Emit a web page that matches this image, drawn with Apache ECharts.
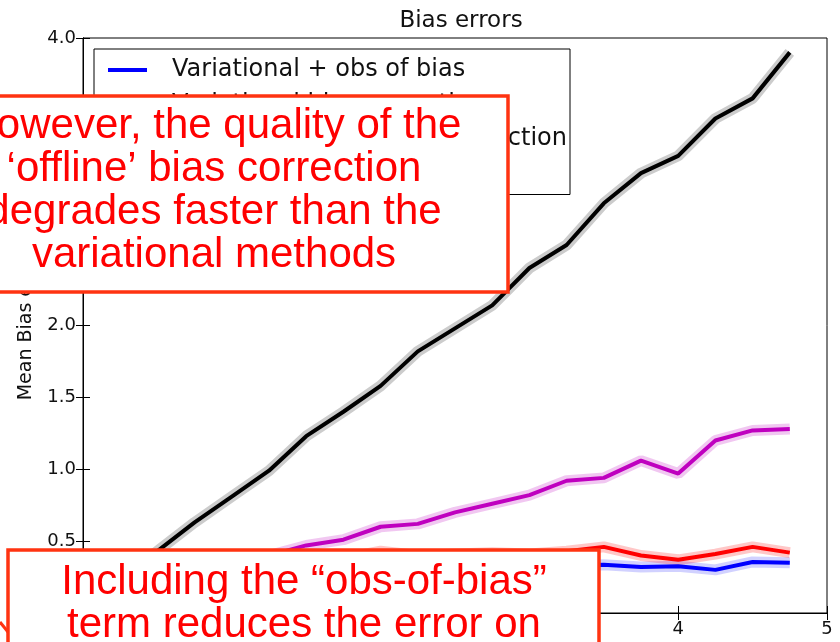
<!DOCTYPE html>
<html>
<head>
<meta charset="utf-8">
<script src="https://cdn.jsdelivr.net/npm/echarts@6/dist/echarts.min.js"></script>
<style>
html, body { margin: 0; padding: 0; background: #fff; }
#chart { width: 840px; height: 642px; }
</style>
</head>
<body>
<div id="chart"></div>
<script>
// x positions of the samples
const xValues = [0.25, 0.5, 0.75, 1.0, 1.25, 1.5, 1.75, 2.0, 2.25, 2.5, 2.75, 3.0, 3.25, 3.5, 3.75, 4.0, 4.25, 4.5, 4.75];

// mean bias error per method
const obsOfBias   = [0.12, 0.17, 0.20, 0.22, 0.24, 0.25, 0.27, 0.28, 0.29, 0.30, 0.31, 0.31, 0.33, 0.335, 0.32, 0.325, 0.30, 0.355, 0.35];
const varBias     = [0.15, 0.22, 0.27, 0.30, 0.33, 0.36, 0.38, 0.43, 0.40, 0.41, 0.42, 0.41, 0.43, 0.46, 0.40, 0.37, 0.41, 0.46, 0.42];
const offlineBias = [0.20, 0.26, 0.31, 0.36, 0.40, 0.47, 0.51, 0.60, 0.62, 0.70, 0.76, 0.82, 0.92, 0.94, 1.06, 0.97, 1.20, 1.27, 1.28];
const noBias      = [0.25, 0.43, 0.63, 0.81, 0.99, 1.23, 1.40, 1.58, 1.82, 1.98, 2.14, 2.40, 2.56, 2.85, 3.06, 3.18, 3.44, 3.58, 3.90];

const seriesNames = [
  'Variational + obs of bias',
  'Variational bias correction',
  'Sequential offline bias correction',
  'No bias correction'
];
const seriesColors = ['#0000ff', '#ff0000', '#bf00bf', '#000000'];
const bandColors = ['rgba(0,0,255,0.18)', 'rgba(255,0,0,0.22)', 'rgba(191,0,191,0.22)', 'rgba(0,0,0,0.2)'];

const topNote = [
  'However, the quality of the',
  '\u2018offline\u2019 bias correction',
  'degrades faster than the',
  'variational methods'
];
const bottomNote = [
  'Including the \u201cobs-of-bias\u201d',
  'term reduces the error on'
];

const allValues = [obsOfBias, varBias, offlineBias, noBias];
const chart = echarts.init(document.getElementById('chart'));

const series = [];
allValues.forEach((vals, i) => {
  const pts = xValues.map((x, k) => [x, vals[k]]);
  // shaded spread around each mean line
  series.push({
    name: seriesNames[i] + ' spread',
    type: 'line',
    data: pts,
    showSymbol: false,
    symbol: 'none',
    silent: true,
    lineStyle: { color: bandColors[i], width: 11 },
    z: 2
  });
  series.push({
    name: seriesNames[i],
    type: 'line',
    data: pts,
    showSymbol: false,
    symbol: 'none',
    color: seriesColors[i],
    lineStyle: { color: seriesColors[i], width: 4 },
    z: 3
  });
});

const tickFont = { fontFamily: 'DejaVu Sans', fontSize: 18, color: '#111' };

chart.setOption({
  animation: false,
  backgroundColor: '#fff',
  title: {
    text: 'Bias errors',
    left: 456,
    top: 5,
    textAlign: 'center',
    textStyle: { fontFamily: 'DejaVu Sans', fontSize: 23, fontWeight: 'normal', color: '#111' }
  },
  grid: {
    left: 83, top: 38, right: 13, bottom: 29,
    show: true, borderColor: '#000', borderWidth: 1
  },
  legend: {
    data: seriesNames,
    orient: 'vertical',
    left: 94,
    top: 49,
    padding: [8, 3, 8, 14],
    itemGap: 8.5,
    itemWidth: 39,
    itemHeight: 4,
    icon: 'rect',
    backgroundColor: '#fff',
    borderColor: '#000',
    borderWidth: 1,
    borderRadius: 0,
    textStyle: { fontFamily: 'DejaVu Sans', fontSize: 24, color: '#111', lineHeight: 26, padding: [0, 0, 0, 20] }
  },
  xAxis: [{
    type: 'value', min: 0, max: 5, interval: 1,
    axisLine: { show: true, lineStyle: { color: '#000' } },
    axisTick: { inside: true, length: 7, lineStyle: { color: '#000' } },
    axisLabel: Object.assign({ margin: 7 }, tickFont),
    splitLine: { show: false }
  }, {
    type: 'value', min: 0, max: 5, interval: 1, position: 'top',
    axisLine: { show: true, lineStyle: { color: '#000' } },
    axisTick: { inside: true, length: 7, lineStyle: { color: '#000' } },
    axisLabel: { show: false },
    splitLine: { show: false }
  }],
  yAxis: [{
    type: 'value', min: 0, max: 4, interval: 0.5,
    name: 'Mean Bias error',
    nameLocation: 'middle',
    nameRotate: 90,
    nameGap: 47,
    nameTextStyle: { fontFamily: 'DejaVu Sans', fontSize: 19, color: '#111' },
    axisLine: { show: true, lineStyle: { color: '#000' } },
    axisTick: { inside: true, length: 7, lineStyle: { color: '#000' } },
    axisLabel: Object.assign({ margin: 7, formatter: v => v.toFixed(1) }, tickFont),
    splitLine: { show: false }
  }, {
    type: 'value', min: 0, max: 4, interval: 0.5, position: 'right',
    axisLine: { show: true, lineStyle: { color: '#000' } },
    axisTick: { inside: true, length: 7, lineStyle: { color: '#000' } },
    axisLabel: { show: false },
    splitLine: { show: false }
  }],
  series: series,
  graphic: [
    {
      type: 'rect', z: 100,
      shape: { x: -82, y: 96, width: 590, height: 196 },
      style: { fill: '#fff', stroke: '#ff3311', lineWidth: 3.5 }
    },
    {
      type: 'text', z: 101,
      x: 214, y: 105,
      style: {
        text: topNote.join('\n'),
        fill: '#ff0000',
        font: '42px "Liberation Sans"',
        lineHeight: 43,
        textAlign: 'center',
        textVerticalAlign: 'top'
      }
    },
    {
      type: 'rect', z: 100,
      shape: { x: 8, y: 550, width: 591, height: 120 },
      style: { fill: '#fff', stroke: '#ff3311', lineWidth: 3.5 }
    },
    {
      type: 'line', z: 100,
      shape: { x1: 0, y1: 622, x2: 8, y2: 632 },
      style: { stroke: '#ff3311', lineWidth: 3 }
    },
    {
      type: 'text', z: 101,
      x: 304, y: 561,
      style: {
        text: bottomNote.join('\n'),
        fill: '#ff0000',
        font: '42px "Liberation Sans"',
        lineHeight: 43,
        textAlign: 'center',
        textVerticalAlign: 'top'
      }
    }
  ]
});
</script>
</body>
</html>
